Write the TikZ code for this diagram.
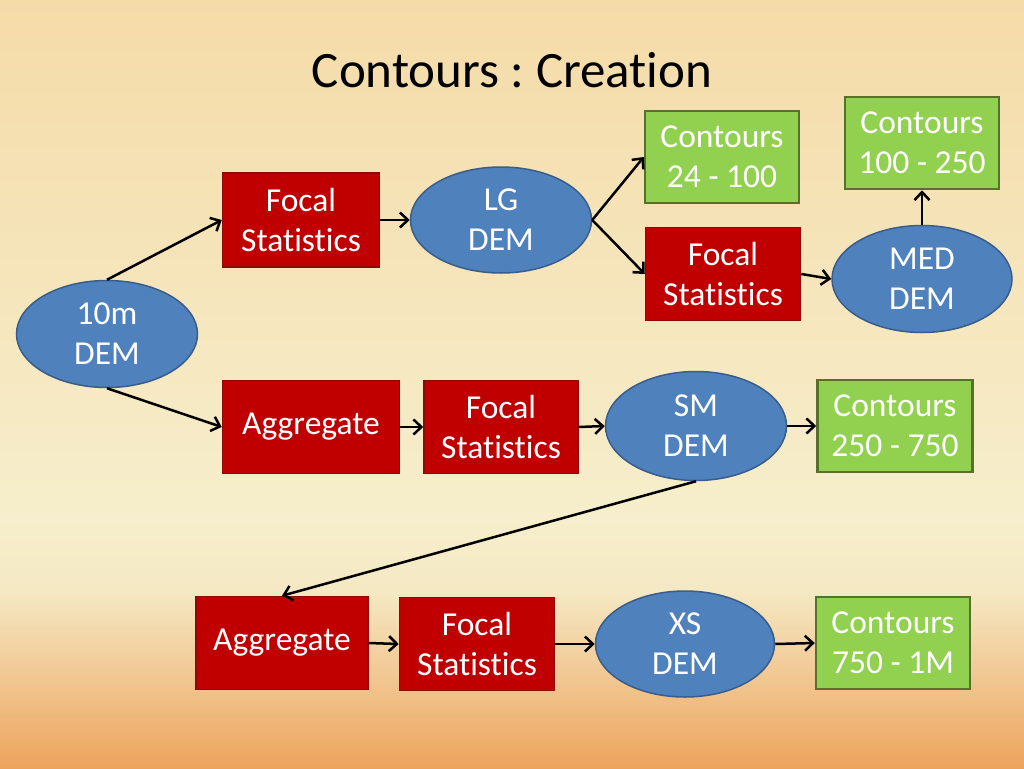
\documentclass[tikz,border=0pt]{standalone}
\usepackage{fontspec}
\setmainfont{Carlito}[Ligatures=NoCommon]
\usetikzlibrary{arrows.meta,shapes.geometric}
\definecolor{bgtop}{HTML}{F5DBA8}
\definecolor{bgcream}{HTML}{F6EECC}
\definecolor{bgcream2}{HTML}{F5E9C4}
\definecolor{bgbot}{HTML}{EDA35C}
\definecolor{procred}{HTML}{C00000}
\definecolor{procborder}{HTML}{8C0A0A}
\definecolor{outgreen}{HTML}{92D050}
\definecolor{outborder}{HTML}{56712C}
\definecolor{demblue}{HTML}{4F81BD}
\definecolor{demborder}{HTML}{385D8A}
\newcommand{\nodefont}{\fontsize{33.5}{40}\selectfont}
\tikzset{
  procbox/.style={rectangle, fill=procred, draw=procborder, line width=1.5pt,
    minimum width=155pt, minimum height=93pt, text=white, align=center,
    font=\nodefont, inner sep=0pt},
  outbox/.style={rectangle, fill=outgreen, draw=outborder, line width=2.5pt,
    minimum width=154pt, minimum height=92pt, text=white, align=center,
    font=\nodefont, inner sep=0pt},
  demell/.style={ellipse, fill=demblue, draw=demborder, line width=1.5pt,
    minimum width=181pt, minimum height=106pt, text=white, align=center,
    font=\nodefont, inner sep=0pt},
  flow/.style={line width=2.5pt, black, -{Straight Barb[length=8pt,width=15pt,line width=2.5pt]}}
}
\frenchspacing
\begin{document}
\begin{tikzpicture}[x=1pt,y=-1pt]
\useasboundingbox (0,0) rectangle (1024,768);
\shade[top color=bgtop, bottom color=bgcream] (0,-1) rectangle (1024,520);
\shade[top color=bgcream, bottom color=bgcream2] (0,519.5) rectangle (1024,590);
\shade[top color=bgcream2, bottom color=bgbot] (0,589.5) rectangle (1024,769);

\node[font=\fontsize{51}{60}\selectfont, text=black] (title) at (512,70) {Contours : Creation};

\node[demell, minimum width=181pt, minimum height=107pt] (dem10) at (107,334) {10m\\DEM};
\node[procbox, minimum width=157pt, minimum height=94pt] (fs1) at (301,220) {Focal\\Statistics};
\node[demell] (lg) at (501,220) {LG\\DEM};
\node[outbox] (c1) at (722,157) {Contours\\24 - 100};
\node[procbox] (fs2) at (723,274) {Focal\\Statistics};
\node[demell, minimum width=180pt, minimum height=107pt] (med) at (922,279) {MED\\DEM};
\node[outbox] (c2) at (922,143) {Contours\\100 - 250};

\node[procbox, minimum width=177pt] (ag1) at (311,427) {Aggregate};
\node[procbox, minimum width=154pt] (fs3) at (501,427) {Focal\\Statistics};
\node[demell, minimum height=109pt] (sm) at (696,426) {SM\\DEM};
\node[outbox, minimum width=155pt] (c3) at (895,426) {Contours\\250 - 750};

\node[procbox, minimum width=172pt] (ag2) at (282,643) {Aggregate};
\node[procbox] (fs4) at (477,644) {Focal\\Statistics};
\node[demell, minimum width=179pt] (xs) at (685,644) {XS\\DEM};
\node[outbox] (c4) at (893,643) {Contours\\750 - 1M};

\draw[flow] (dem10.north) -- (fs1.west);
\draw[flow] (dem10.south) -- (ag1.west);
\draw[flow] (fs1.east) -- (lg.west);
\draw[flow] (lg.east) -- (c1.west);
\draw[flow] (lg.east) -- (fs2.west);
\draw[flow] (fs2.east) -- (med.west);
\draw[flow] (med.north) -- (c2.south);
\draw[flow] (ag1.east) -- (fs3.west);
\draw[flow] (fs3.east) -- (sm.west);
\draw[flow] (sm.east) -- (c3.west);
\draw[flow] (sm.south) -- (ag2.north);
\draw[flow] (ag2.east) -- (fs4.west);
\draw[flow] (fs4.east) -- (xs.west);
\draw[flow] (xs.east) -- (c4.west);
\end{tikzpicture}
\end{document}
